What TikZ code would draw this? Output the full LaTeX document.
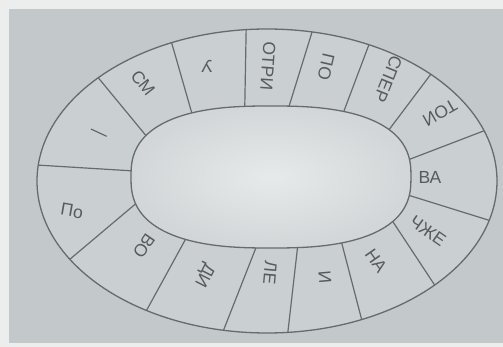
\documentclass[tikz,border=0pt]{standalone}
\usepackage{fontspec}
\setmainfont{Liberation Sans}
\definecolor{paper}{HTML}{ECEEEE}
\definecolor{bg}{HTML}{C3C8CA}
\definecolor{ringc}{HTML}{CACFD1}
\definecolor{innerA}{HTML}{E7EAEA}
\definecolor{innerB}{HTML}{D2D6D8}
\definecolor{ink}{HTML}{575B5D}
\definecolor{linec}{HTML}{676B6D}
\begin{document}
\begin{tikzpicture}[x=1pt,y=-1pt,
  lbl/.style={text=ink, font=\fontsize{17.5}{19}\selectfont, inner sep=0pt},
  rim/.style={draw=linec, line width=1.3pt},
  divider/.style={draw=linec, line width=1.2pt}]
\useasboundingbox (0,0) rectangle (503,347);
\fill[paper] (0,0) rectangle (503,347);
\fill[bg] (9,9) rectangle (503,343);
% outer oval
\path[rim, fill=ringc] (267,181) ellipse [x radius=230, y radius=152];
% inner oval (superellipse)
\path[rim, inner color=innerA, outer color=innerB]
  plot[domain=0:356, samples=90, smooth, variable=\t]
  ({271+140*sign(cos(\t))*pow(abs(cos(\t))+0.0001,0.78)},
   {177-71*sign(sin(\t))*pow(abs(sin(\t))+0.0001,0.78)}) -- cycle;
% dividers
\foreach \n/\ta/\tb in {
 1/174/177.5, 2/137.2/149.9, 3/114.5/118.8, 4/95.2/96.7, 5/78.7/85.9,
 6/63.7/64.4, 7/44.6/36.5, 8/19.3/9.6, 9/-15/-10.2, 10/-43.2/-33.3,
 11/-65.7/-65.4, 12/-84.8/-83.2, 13/-100.9/-93.3, 14/-121.6/-122.1,
 15/-149/-163.3} {
  \pgfmathsetmacro\ca{cos(\tb)}
  \pgfmathsetmacro\sa{sin(\tb)}
  \pgfmathsetmacro\ix{271+140*sign(\ca)*pow(abs(\ca)+0.0001,0.78)}
  \pgfmathsetmacro\iy{177-71*sign(\sa)*pow(abs(\sa)+0.0001,0.78)}
  \coordinate (o\n) at ({267+230*cos(\ta)},{181-152*sin(\ta)});
  \coordinate (i\n) at (\ix,\iy);
  \draw[divider] (o\n) -- (i\n);
}
% labels
\node[lbl, rotate=-10]  (t1)  at (72,211)  {По};
\node[lbl, rotate=-25]  (t2)  at (98,135)  {—};
\node[lbl, rotate=-52]  (t3)  at (143,83)  {СМ};
\node[lbl, rotate=180]  (t4)  at (207,66)  {У};
\node[lbl, rotate=-94]  (t5)  at (268,66)  {ОТРИ};
\node[lbl, rotate=-103] (t6)  at (326,67)  {ПО};
\node[lbl, rotate=-112] (t7)  at (388,79)  {СПЕР};
\node[lbl, rotate=-150] (t8)  at (440,113) {ТОИ};
\node[lbl, rotate=0]    (t9)  at (430,177) {ВА};
\node[lbl, rotate=-35]  (t10) at (428,231) {ЧЖЕ};
\node[lbl, rotate=-55]  (t11) at (376,261) {НА};
\node[lbl, rotate=-85]  (t12) at (325,277) {И};
\node[lbl, rotate=-95]  (t13) at (270,273) {ЛЕ};
\node[lbl, rotate=-117] (t14) at (204,275) {ДИ};
\node[lbl, rotate=-125] (t15) at (144,246) {ВО};
\end{tikzpicture}
\end{document}
